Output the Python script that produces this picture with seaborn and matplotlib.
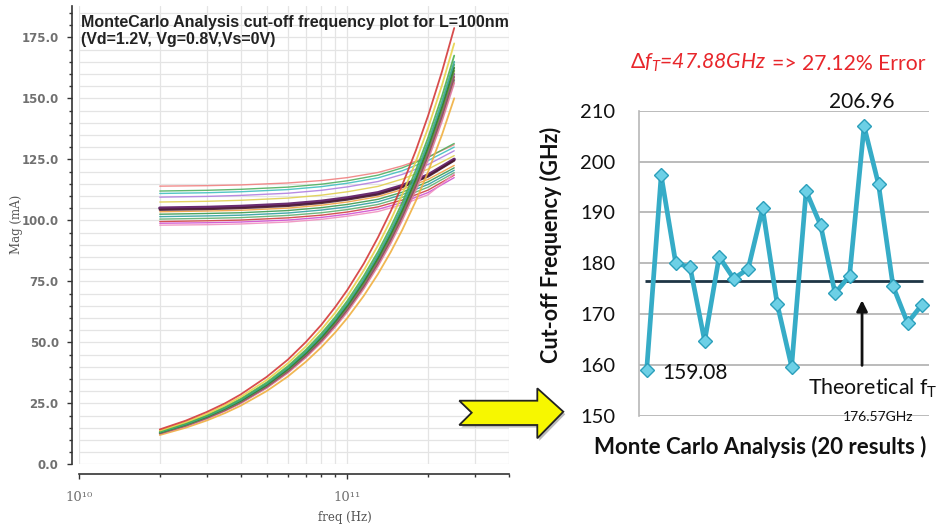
import numpy as np
import pandas as pd
import matplotlib
matplotlib.use("Agg")
import matplotlib.pyplot as plt
import matplotlib.ticker as mticker
from matplotlib.patches import Polygon
import seaborn as sns

# ---------------- Left chart data ----------------
freq_rise_ghz = [20, 25, 30, 35, 40, 50, 60, 70, 80, 90, 100, 115, 130, 145, 160, 180, 200, 225, 250]
rising_curves = [
    [14.3, 17.9, 21.5, 25.0, 28.6, 35.8, 42.9, 50.1, 57.2, 64.4, 71.5, 82.2, 93.0, 103.7, 114.4, 128.7, 143.0, 160.9, 178.8],
    [13.8, 17.3, 20.7, 24.2, 27.6, 34.5, 41.4, 48.3, 55.2, 62.1, 69.0, 79.4, 89.7, 100.1, 110.4, 124.2, 138.0, 155.3, 172.5],
    [13.4, 16.8, 20.1, 23.5, 26.8, 33.5, 40.2, 46.9, 53.6, 60.3, 67.0, 77.1, 87.1, 97.2, 107.2, 120.6, 134.0, 150.8, 167.5],
    [13.2, 16.5, 19.8, 23.1, 26.4, 33.0, 39.6, 46.2, 52.8, 59.4, 66.0, 75.9, 85.8, 95.7, 105.6, 118.8, 132.0, 148.5, 165.0],
    [13.0, 16.3, 19.5, 22.8, 26.0, 32.5, 39.0, 45.5, 52.0, 58.5, 65.0, 74.8, 84.5, 94.3, 104.0, 117.0, 130.0, 146.3, 162.5],
    [12.9, 16.1, 19.4, 22.6, 25.8, 32.3, 38.7, 45.2, 51.6, 58.1, 64.5, 74.2, 83.9, 93.5, 103.2, 116.1, 129.0, 145.1, 161.3],
    [12.8, 16.0, 19.2, 22.4, 25.6, 32.0, 38.4, 44.8, 51.2, 57.6, 64.0, 73.6, 83.2, 92.8, 102.4, 115.2, 128.0, 144.0, 160.0],
    [12.7, 15.9, 19.1, 22.2, 25.4, 31.8, 38.1, 44.5, 50.8, 57.2, 63.5, 73.0, 82.6, 92.1, 101.6, 114.3, 127.0, 142.9, 158.8],
    [12.5, 15.6, 18.8, 21.9, 25.0, 31.3, 37.5, 43.8, 50.0, 56.3, 62.5, 71.9, 81.3, 90.6, 100.0, 112.5, 125.0, 140.6, 156.3],
    [12.0, 15.0, 18.0, 21.0, 24.0, 30.0, 36.0, 42.0, 48.0, 54.0, 60.0, 69.0, 78.0, 87.0, 96.0, 108.0, 120.0, 135.0, 150.0],
    [13.1, 16.4, 19.7, 22.9, 26.2, 32.8, 39.3, 45.9, 52.4, 59.0, 65.5, 75.3, 85.2, 95.0, 104.8, 117.9, 131.0, 147.4, 163.8],
    [12.6, 15.8, 18.9, 22.1, 25.2, 31.5, 37.8, 44.1, 50.4, 56.7, 63.0, 72.5, 81.9, 91.4, 100.8, 113.4, 126.0, 141.8, 157.5],
]
rising_colors = ["#d43a3a", "#e8d24a", "#4caf50", "#3aa89a", "#2e7d32", "#7a9a3a",
                 "#8a4a9a", "#9a5a3a", "#e07aa0", "#f0b040", "#5aa860", "#707070"]

freq_flat_ghz = [20, 30, 40, 60, 80, 100, 130, 160, 200, 250]
flat_curves = [
    [114.0, 114.2, 114.5, 115.3, 116.3, 117.5, 119.6, 122.3, 126.0, 131.0],
    [112.0, 112.3, 112.7, 113.6, 114.8, 116.2, 118.5, 121.5, 125.8, 131.5],
    [111.0, 111.3, 111.7, 112.6, 113.8, 115.2, 117.4, 120.3, 124.5, 130.0],
    [109.5, 109.8, 110.2, 111.1, 112.3, 113.7, 115.9, 118.8, 122.9, 128.5],
    [107.5, 107.8, 108.2, 109.1, 110.3, 111.7, 113.9, 116.9, 121.0, 126.5],
    [103.5, 103.8, 104.1, 105.0, 106.2, 107.5, 109.7, 112.6, 116.8, 122.5],
    [102.5, 102.8, 103.1, 104.0, 105.2, 106.5, 108.6, 111.5, 115.8, 121.5],
    [101.5, 101.8, 102.1, 103.0, 104.2, 105.5, 107.6, 110.5, 114.7, 120.5],
    [100.5, 100.8, 101.1, 102.0, 103.1, 104.4, 106.5, 109.4, 113.6, 119.5],
    [99.5, 99.8, 100.1, 101.0, 102.1, 103.4, 105.5, 108.3, 112.4, 118.5],
    [98.8, 99.0, 99.3, 100.1, 101.2, 102.5, 104.5, 107.3, 111.4, 117.5],
    [98.0, 98.2, 98.5, 99.3, 100.4, 101.7, 103.6, 106.4, 110.5, 119.0],
    [105.0, 105.3, 105.7, 106.6, 107.8, 109.2, 111.3, 114.2, 118.6, 125.0],
    [104.3, 104.6, 105.0, 105.9, 107.1, 108.5, 110.6, 113.6, 118.0, 124.5],
]
flat_colors = ["#f08080", "#50b060", "#40c0c0", "#b080e0", "#e0d050", "#f0a040",
               "#3a9a50", "#30a0a0", "#60b070", "#d04040", "#d050d0", "#f090c0",
               "#5a1560", "#4a1a30"]
flat_widths = [1.0] * 12 + [2.4, 1.6]

# ---------------- Right chart data ----------------
run_index = list(range(1, 21))
cutoff_ghz = [159.08, 197.3, 180.1, 179.2, 164.7, 181.3, 177.0, 178.9, 190.8, 172.1,
              159.7, 194.2, 187.5, 174.1, 177.6, 206.96, 195.5, 175.5, 168.3, 171.9]
theoretical_ft = 176.57
max_label = "206.96"
min_label = "159.08"

sns.set_style("white")
plt.rcParams["mathtext.fontset"] = "custom"
plt.rcParams["mathtext.rm"] = "Lato"
plt.rcParams["mathtext.it"] = "Lato:italic"
plt.rcParams["mathtext.bf"] = "Lato:bold"

W, H = 944, 529
fig = plt.figure(figsize=(W / 100, H / 100), dpi=100)
fig.patch.set_facecolor("white")

def fx(px):
    return px / W

def fy(py):
    return 1 - py / H

# ================= LEFT CHART =================
axL = fig.add_axes([fx(79), fy(464.3), fx(509) - fx(79), (464.3 - 5.6) / H])
axL.set_xscale("log")

rows = []
for cid, vals in enumerate(rising_curves):
    for f, v in zip(freq_rise_ghz, vals):
        rows.append(dict(curve=f"r{cid}", freq=f * 1e9, mag=v))
df_rise = pd.DataFrame(rows)
rows = []
for cid, vals in enumerate(flat_curves):
    for f, v in zip(freq_flat_ghz, vals):
        rows.append(dict(curve=f"f{cid}", freq=f * 1e9, mag=v))
df_flat = pd.DataFrame(rows)

for cid, col in enumerate(flat_colors):
    sub = df_flat[df_flat.curve == f"f{cid}"]
    sns.lineplot(data=sub, x="freq", y="mag", ax=axL, color=col,
                 lw=flat_widths[cid], alpha=0.9, legend=False)
for cid, col in reversed(list(enumerate(rising_colors))):
    sub = df_rise[df_rise.curve == f"r{cid}"]
    sns.lineplot(data=sub, x="freq", y="mag", ax=axL, color=col,
                 lw=1.3, alpha=0.9, legend=False)

axL.set_xlim(1e10, 4e11)
axL.set_ylim(0, 188)
axL.yaxis.set_major_locator(mticker.MultipleLocator(25))
axL.yaxis.set_minor_locator(mticker.MultipleLocator(5))
axL.yaxis.set_major_formatter(mticker.FormatStrFormatter("%.1f"))
axL.xaxis.set_major_locator(mticker.FixedLocator([1e10, 1e11]))
axL.xaxis.set_major_formatter(mticker.FixedFormatter(["10¹⁰", "10¹¹"]))
axL.xaxis.set_minor_locator(mticker.LogLocator(base=10, subs=range(2, 10), numticks=20))
axL.xaxis.set_minor_formatter(mticker.NullFormatter())

axL.grid(True, which="both", color="#e4e4e4", lw=0.9)
axL.set_axisbelow(True)
for s in ["top", "right"]:
    axL.spines[s].set_visible(False)
axL.spines["left"].set_position(("outward", 5))
axL.spines["bottom"].set_position(("outward", 7))
for s in ["left", "bottom"]:
    axL.spines[s].set_color("#333333")
    axL.spines[s].set_linewidth(1.2)

axL.tick_params(axis="y", which="major", direction="out", length=3.6, width=1,
                color="#333333", labelsize=8.5, labelcolor="#707070", pad=6, left=True)
axL.tick_params(axis="y", which="minor", direction="out", length=2.4, width=1,
                color="#333333", left=True)
axL.tick_params(axis="x", which="major", direction="out", length=3.5, width=1,
                color="#333333", labelsize=9.5, labelcolor="#707070", pad=9, bottom=True)
axL.tick_params(axis="x", which="minor", direction="out", length=2.5, width=1,
                color="#333333", bottom=True)
for lab in axL.get_yticklabels():
    lab.set_fontfamily("DejaVu Sans")
    lab.set_fontweight("bold")
for lab in axL.get_xticklabels():
    lab.set_fontfamily("DejaVu Serif")

axL.set_xlabel("freq (Hz)", fontfamily="DejaVu Serif", fontsize=8.5, color="#555555")
axL.xaxis.set_label_coords((345 - 79) / 430, (464.3 - 518) / 458.7)
axL.xaxis.label.set_va("center")
axL.set_ylabel("Mag (mA)", fontfamily="DejaVu Serif", fontsize=8.5, color="#555555")
axL.yaxis.set_label_coords((16 - 79) / 430, (464.3 - 224) / 458.7)
axL.yaxis.label.set_va("center")

axL.text(0.004, (464.3 - 15) / 458.7,
         "MonteCarlo Analysis cut-off frequency plot for L=100nm\n(Vd=1.2V, Vg=0.8V,Vs=0V)",
         transform=axL.transAxes, ha="left", va="top", fontsize=11.5,
         fontfamily="Liberation Sans", fontweight="bold", color="#222222",
         linespacing=1.15)

# ================= RIGHT CHART =================
axR = fig.add_axes([fx(639), fy(416), fx(929) - fx(639), (416 - 110.7) / H])
df_r = pd.DataFrame(dict(run=run_index, ft=cutoff_ghz))
axR.hlines(theoretical_ft, run_index[0] - 0.1, run_index[-1] + 0.1,
           color="#1e3545", lw=2, zorder=2)
sns.lineplot(data=df_r, x="run", y="ft", ax=axR, color="#36acc7", lw=3.4,
             marker="D", markersize=7.5, markerfacecolor="#6dd0e6",
             markeredgecolor="#2b9fbb", markeredgewidth=1, zorder=3)
axR.set_xlim(0.47, 20.48)
axR.set_ylim(150, 210)
axR.yaxis.set_major_locator(mticker.MultipleLocator(10))
axR.set_xticks([])
axR.grid(True, axis="y", color="#a8a8a8", lw=1.1)
axR.set_axisbelow(True)
for s in ["top", "right", "bottom"]:
    axR.spines[s].set_visible(False)
axR.spines["left"].set_color("#b8b8b8")
axR.spines["left"].set_linewidth(1.2)
axR.tick_params(axis="y", length=0, pad=17, labelsize=14.5, labelcolor="#111111")
for lab in axR.get_yticklabels():
    lab.set_fontfamily("Lato")

axR.set_ylabel("Cut-off Frequency (GHz)", fontfamily="Lato", fontweight="bold",
               fontsize=15.5, color="#111111")
axR.yaxis.set_label_coords((551 - 639) / 290, (416 - 245) / 305.3)
axR.yaxis.label.set_va("center")
axR.set_xlabel("Monte Carlo Analysis (20 results )", fontfamily="Lato",
               fontweight="bold", fontsize=16, color="#111111")
axR.xaxis.set_label_coords((760 - 639) / 290, (416 - 447) / 305.3)
axR.xaxis.label.set_va("center")

t1 = axR.text((630 - 639) / 290, (416 - 63) / 305.3, r"$\Delta f_T$=47.88GHz",
              transform=axR.transAxes, ha="left", va="center", fontsize=15.2,
              fontfamily="Lato", fontstyle="italic", color="#e8262b")
axR.annotate("=> 27.12% Error", xy=(1, 0), xycoords=t1, xytext=(4, 0),
             textcoords="offset points", ha="left", va="bottom",
             fontsize=15.2, fontfamily="Lato", color="#e8262b")

axR.text(15.85, 211.7, max_label, ha="center", va="center", fontsize=15,
         fontfamily="Lato", color="#111111")
axR.text(4.33, 158.5, min_label, ha="center", va="center", fontsize=15,
         fontfamily="Lato", color="#111111")
axR.annotate("", xy=(15.86, 173.3), xytext=(15.86, 159.4),
             arrowprops=dict(arrowstyle="-|>", color="#111111", lw=2,
                             mutation_scale=16))
axR.text(12.1, 155.5, r"Theoretical f$_\mathrm{T}$", ha="left", va="center",
         fontsize=15.4, fontfamily="Lato", color="#111111")
axR.text(16.97, 149.9, f"{theoretical_ft:.2f}GHz", ha="center", va="center",
         fontsize=10, fontfamily="Lato", color="#111111", clip_on=False)

# ================= Yellow arrow (decoration) =================
arrow_px = [(459.3, 400.7), (471.7, 412.7), (459.3, 425), (537.3, 425),
            (537.3, 438.3), (563.3, 411.7), (537.3, 388.3), (537.3, 400.7)]
shadow = Polygon([(fx(x + 2), fy(y + 2.5)) for x, y in arrow_px], closed=True,
                 transform=fig.transFigure, facecolor="#777777", edgecolor="none",
                 alpha=0.5, zorder=5)
arrow = Polygon([(fx(x), fy(y)) for x, y in arrow_px], closed=True,
                transform=fig.transFigure, facecolor="#f7f700", edgecolor="#222222",
                lw=1.3, zorder=6)
fig.patches.extend([shadow, arrow])

fig.savefig("out.png", dpi=100, facecolor="white")
